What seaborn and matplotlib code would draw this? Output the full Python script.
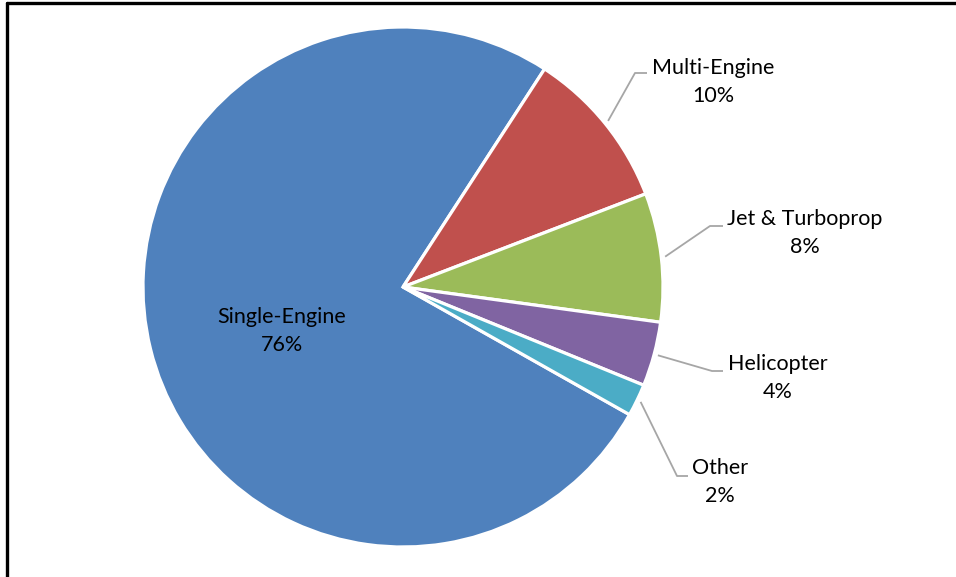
import numpy as np
import matplotlib
matplotlib.use("Agg")
import matplotlib.pyplot as plt
import seaborn as sns

sns.set_theme(style="white")
plt.rcParams["font.family"] = ["Lato", "DejaVu Sans"]

categories = ["Single-Engine", "Multi-Engine", "Jet & Turboprop", "Helicopter", "Other"]
shares = [76, 10, 8, 4, 2]
colors = ["#4F81BD", "#C0504D", "#9BBB59", "#8064A2", "#4BACC6"]

W, H = 956, 577
fig = plt.figure(figsize=(W / 100, H / 100), dpi=100)
fig.patch.set_facecolor("white")

# pie centred at (403, 287) px with a 260 px radius
cx, cy, R = 403, 287, 260
ax = fig.add_axes([(cx - R) / W, (H - cy - R) / H, 2 * R / W, 2 * R / H])

start = 57 + 360 * shares[0] / 100
wedges, _ = ax.pie(
    shares,
    colors=colors,
    startangle=start,
    counterclock=False,
    radius=1.0,
    wedgeprops=dict(edgecolor="white", linewidth=2.3),
)
ax.set_xlim(-1, 1)
ax.set_ylim(-1, 1)
ax.set_aspect("auto")
ax.axis("off")


def to_data(px, py):
    return (px - cx) / R, (cy - py) / R


# label layout: (elbow px, end of horizontal px, text centre px)
layout = {
    "Multi-Engine": ((635, 73), (647, 73), (713, 82)),
    "Jet & Turboprop": ((710, 226), (723, 226), (805, 233)),
    "Helicopter": ((712, 371), (723, 371), (778, 378)),
    "Other": ((677, 476), (688, 476), (720, 482)),
}

for w, name, val in zip(wedges, categories, shares):
    label = f"{name}\n{val}%"
    if name in layout:
        elbow, end, tpos = layout[name]
        mid = np.deg2rad((w.theta1 + w.theta2) / 2)
        sx, sy = 1.015 * np.cos(mid), 1.015 * np.sin(mid)
        ex, ey = to_data(*elbow)
        hx, hy = to_data(*end)
        ax.plot([sx, ex, hx], [sy, ey, hy], color="#A6A6A6", lw=1.3,
                solid_capstyle="butt", clip_on=False)
        tx, ty = to_data(*tpos)
    else:
        tx, ty = to_data(282, 331)
    ax.text(tx, ty, label, ha="center", va="center", fontsize=15.5,
            color="#000000", linespacing=1.45, clip_on=False)

# chart frame (top and left edges fall inside the image)
fig.add_artist(plt.Line2D([7 / W, 1.0], [1 - 3 / H, 1 - 3 / H],
                          transform=fig.transFigure, color="black", lw=2.4))
fig.add_artist(plt.Line2D([7 / W, 7 / W], [0.0, 1 - 3 / H],
                          transform=fig.transFigure, color="black", lw=2.4))

fig.savefig("out.png", dpi=100, facecolor="white")
